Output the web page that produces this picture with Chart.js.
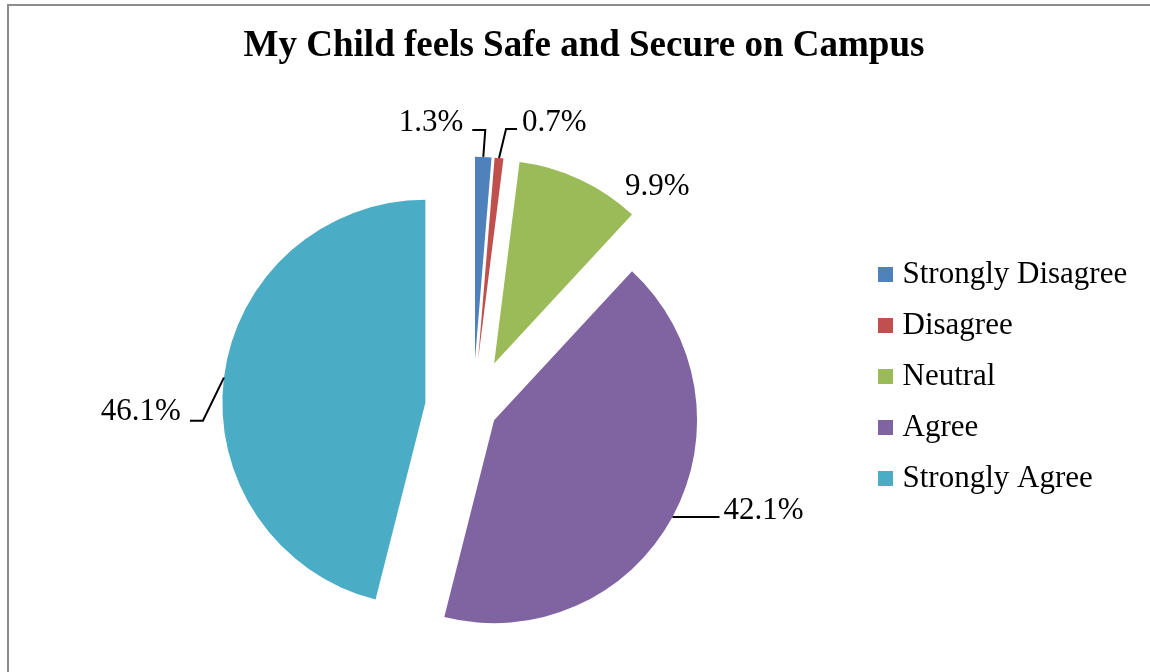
<!DOCTYPE html>
<html>
<head>
<meta charset="utf-8">
<script src="https://cdn.jsdelivr.net/npm/chart.js@4"></script>
<style>
  html, body { margin: 0; padding: 0; background: #fff; }
  #frame {
    position: absolute; left: 7px; top: 4px; width: 1200px; height: 700px;
    border-left: 2px solid #8c8c8c; border-top: 2px solid #8c8c8c;
  }
  #chart { position: absolute; left: 0; top: 0; }
</style>
</head>
<body>
<div id="frame"></div>
<canvas id="chart" width="1150" height="672"></canvas>
<script>
const titleText = "My Child feels Safe and Secure on Campus";
const categories = ["Strongly Disagree", "Disagree", "Neutral", "Agree", "Strongly Agree"];
const percentages = [1.3, 0.7, 9.9, 42.1, 46.1];
const sliceColors = ["#4F81BD", "#C0504D", "#9BBB59", "#8064A2", "#4BACC6"];

// how far each slice is pulled out of the pie (px)
const explode = [49, 49, 50, 24, 48];
// leader line per label: elbow offset from the slice edge, flat arm, then the text
const leaders = [
  { elbow: [2, -27], arm: -13, gap: 9, dy: -7 },
  { elbow: [7, -29], arm: 11, gap: 5, dy: -6 },
  { elbow: null, text: [45, 7] },
  { elbow: [0, 0], arm: 47, gap: 4, dy: -6 },
  { elbow: [-21, 43], arm: -13, gap: 9, dy: -9 },
];

const serif = "'Liberation Serif', 'Times New Roman', serif";

function squareKey(color) {
  const c = document.createElement("canvas");
  c.width = 15;
  c.height = 15;
  const g = c.getContext("2d");
  g.fillStyle = color;
  g.fillRect(0, 0, 15, 15);
  return c;
}

// The legend box is kept narrow so the pie sits left of centre;
// let its text run on to the canvas edge instead of being clipped.
const legendRoomPlugin = {
  id: "legendRoom",
  afterLayout(chart) {
    chart.legend.right = chart.width;
    chart.legend.width = chart.legend.right - chart.legend.left;
  },
};

// Push every slice out along its middle angle.
const explodePlugin = {
  id: "explode",
  afterDatasetsUpdate(chart) {
    chart.getDatasetMeta(0).data.forEach((arc, i) => {
      const mid = (arc.startAngle + arc.endAngle) / 2;
      arc.x += Math.cos(mid) * explode[i];
      arc.y += Math.sin(mid) * explode[i];
    });
  },
};

// Percent labels with leader lines, anchored on each slice's outer edge.
const labelPlugin = {
  id: "sliceLabels",
  afterDatasetsDraw(chart) {
    const ctx = chart.ctx;
    ctx.save();
    ctx.font = "31px " + serif;
    ctx.fillStyle = "#000";
    ctx.strokeStyle = "#000";
    ctx.lineWidth = 2;
    ctx.textBaseline = "middle";
    chart.getDatasetMeta(0).data.forEach((arc, i) => {
      const mid = (arc.startAngle + arc.endAngle) / 2;
      const ax = arc.x + Math.cos(mid) * arc.outerRadius;
      const ay = arc.y + Math.sin(mid) * arc.outerRadius;
      const text = percentages[i].toFixed(1) + "%";
      const l = leaders[i];
      if (!l.elbow) {
        ctx.textAlign = "left";
        ctx.fillText(text, ax + l.text[0], ay + l.text[1]);
        return;
      }
      const ex = ax + l.elbow[0];
      const ey = ay + l.elbow[1];
      const endX = ex + l.arm;
      ctx.beginPath();
      ctx.moveTo(ax, ay);
      ctx.lineTo(ex, ey);
      ctx.lineTo(endX, ey);
      ctx.stroke();
      const dir = Math.sign(l.arm);
      ctx.textAlign = dir < 0 ? "right" : "left";
      ctx.fillText(text, endX + dir * l.gap, ey + l.dy);
    });
    ctx.restore();
  },
};

new Chart(document.getElementById("chart"), {
  type: "pie",
  data: {
    labels: categories,
    datasets: [{
      data: percentages,
      backgroundColor: sliceColors,
      borderWidth: 0,
      radius: 203,
      clip: false,
    }],
  },
  options: {
    responsive: false,
    animation: false,
    events: [],
    layout: { padding: { left: 83, right: 65, top: 0, bottom: 94 } },
    plugins: {
      title: {
        display: true,
        text: titleText,
        color: "#000",
        font: { family: serif, size: 37, weight: "bold" },
        padding: { top: 24, bottom: 171 },
      },
      legend: {
        position: "right",
        align: "start",
        fullSize: false,
        maxWidth: 222,
        labels: {
          color: "#000",
          font: { family: serif, size: 31 },
          padding: 20,
          usePointStyle: true,
          pointStyleWidth: 4,
          generateLabels: () => categories.map((name, i) => ({
            text: name,
            fillStyle: sliceColors[i],
            strokeStyle: sliceColors[i],
            lineWidth: 0,
            pointStyle: squareKey(sliceColors[i]),
            hidden: false,
            index: i,
          })),
        },
      },
      tooltip: { enabled: false },
    },
  },
  plugins: [legendRoomPlugin, explodePlugin, labelPlugin],
});
</script>
</body>
</html>
